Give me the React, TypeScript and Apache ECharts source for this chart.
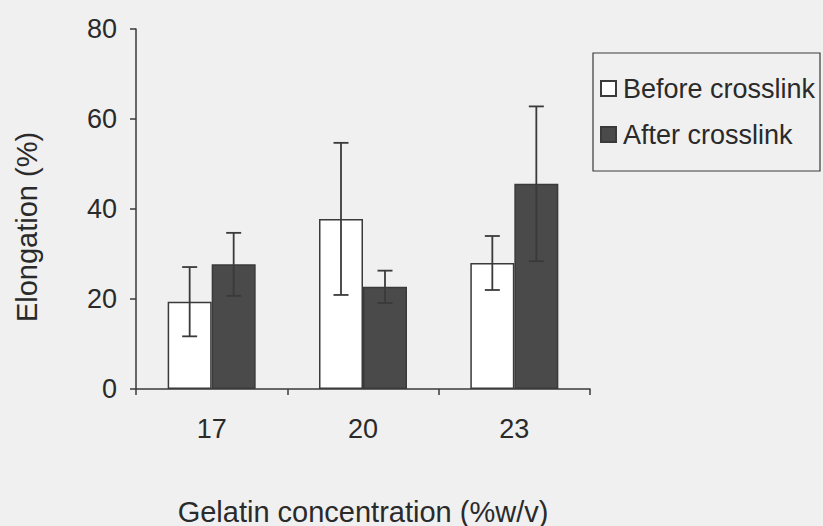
import React, { useEffect, useRef } from "react";
import * as echarts from "echarts";

const categories = ["17", "20", "23"];
const beforeMeans = [19.4, 37.8, 28.0];
const beforeErr = [7.7, 16.9, 6.0];
const afterMeans = [27.7, 22.7, 45.6];
const afterErr = [7.0, 3.6, 17.2];
const yTicks = [0, 20, 40, 60, 80];

const FONT = "'Liberation Sans', Arial, sans-serif";
const TXT = "#2a2a2a";
const LINE = "#3a3a3a";
const BAR_W = 44;

function errData(means: number[], errs: number[]) {
  return means.map((m, i) => [i, m - errs[i], m + errs[i]]);
}

function makeErrRender(offset: number) {
  return (params: any, api: any) => {
    const i = api.value(0);
    const lo = api.coord([i, api.value(1)]);
    const hi = api.coord([i, api.value(2)]);
    const x = lo[0] + offset;
    const cap = 7.5;
    const style = { stroke: LINE, lineWidth: 1.8 };
    return {
      type: "group",
      children: [
        { type: "line", shape: { x1: x, y1: lo[1], x2: x, y2: hi[1] }, style },
        { type: "line", shape: { x1: x - cap, y1: lo[1], x2: x + cap, y2: lo[1] }, style },
        { type: "line", shape: { x1: x - cap, y1: hi[1], x2: x + cap, y2: hi[1] }, style },
      ],
    };
  };
}

export default function App() {
  const ref = useRef<HTMLDivElement>(null);
  useEffect(() => {
    if (!ref.current) return;
    const chart = echarts.init(ref.current, null, { renderer: "svg" });
    chart.setOption({
      animation: false,
      backgroundColor: "#f0f0f0",
      textStyle: { fontFamily: FONT },
      grid: {
        left: 136,
        right: 233,
        top: 29,
        bottom: 137,
        containLabel: false,
        outerBoundsMode: "none",
      },
      graphic: [
        {
          type: "rect",
          shape: { x: 593, y: 53, width: 227, height: 118 },
          style: { fill: "none", stroke: LINE, lineWidth: 1.2 },
          silent: true,
        },
        {
          type: "text",
          x: 27,
          y: 227,
          rotation: Math.PI / 2,
          style: {
            text: "Elongation (%)",
            fontFamily: FONT,
            fontSize: 29,
            fill: TXT,
            align: "center",
            verticalAlign: "middle",
          },
        },
      ],
      legend: {
        orient: "vertical",
        left: 600,
        top: 75,
        padding: 0,
        itemGap: 19,
        itemWidth: 15,
        itemHeight: 15,
        icon: "rect",
        textStyle: { fontFamily: FONT, fontSize: 27, color: TXT, padding: [0, 0, 0, 2] },
        data: ["Before crosslink", "After crosslink"],
      },
      xAxis: {
        type: "category",
        data: categories,
        name: "Gelatin concentration (%w/v)",
        nameLocation: "middle",
        nameGap: 108,
        nameTextStyle: { fontFamily: FONT, fontSize: 29, color: TXT },
        axisLine: { lineStyle: { color: LINE, width: 1.5 } },
        axisTick: { show: true, length: 6, lineStyle: { color: LINE, width: 1.5 } },
        axisLabel: { fontFamily: FONT, fontSize: 27, color: TXT, margin: 26 },
      },
      yAxis: {
        type: "value",
        min: 0,
        max: 80,
        interval: 20,
        axisLine: { show: true, lineStyle: { color: LINE, width: 1.5 } },
        axisTick: { show: true, length: 6, lineStyle: { color: LINE, width: 1.5 } },
        splitLine: { show: false },
        axisLabel: {
          fontFamily: FONT,
          fontSize: 27,
          color: TXT,
          margin: 19,
          formatter: (v: number) => (yTicks.includes(v) ? String(v) : ""),
        },
      },
      series: [
        {
          name: "Before crosslink",
          type: "bar",
          data: beforeMeans,
          barWidth: BAR_W,
          barGap: "0%",
          itemStyle: { color: "#ffffff", borderColor: LINE, borderWidth: 1.5 },
        },
        {
          name: "After crosslink",
          type: "bar",
          data: afterMeans,
          barWidth: BAR_W,
          barGap: "0%",
          itemStyle: { color: "#4a4a4a", borderColor: LINE, borderWidth: 1.5 },
        },
        {
          type: "custom",
          renderItem: makeErrRender(-BAR_W / 2),
          data: errData(beforeMeans, beforeErr),
          encode: { x: 0, y: [1, 2] },
          z: 10,
        },
        {
          type: "custom",
          renderItem: makeErrRender(BAR_W / 2),
          data: errData(afterMeans, afterErr),
          encode: { x: 0, y: [1, 2] },
          z: 10,
        },
      ],
    });
    return () => chart.dispose();
  }, []);
  return (
    <div
      ref={ref}
      style={{ position: "fixed", left: 0, top: 0, width: 823, height: 526 }}
    />
  );
}
